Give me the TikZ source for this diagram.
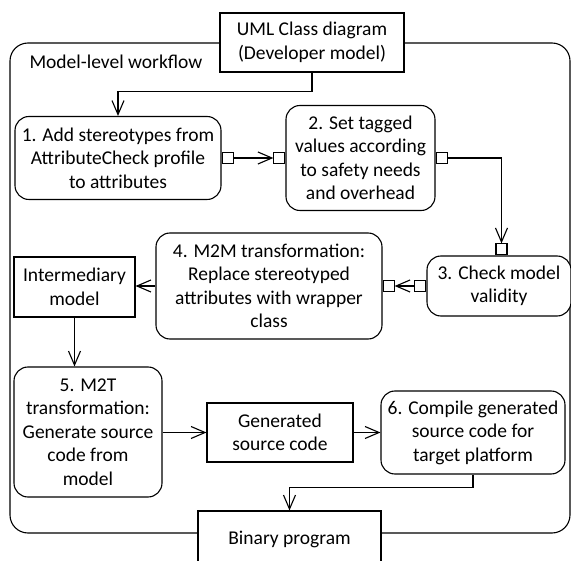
\documentclass[tikz,border=0pt]{standalone}
\usepackage{fontspec}
\setmainfont{Carlito}
\usetikzlibrary{arrows.meta}
\begin{document}
\begin{tikzpicture}[x=1pt,y=-1pt,
  line width=1.1pt,
  every node/.style={font=\fontsize{19.5}{23.5}\selectfont, align=center, inner sep=0pt},
  action/.style={draw, fill=white, rounded corners=14pt},
  objbox/.style={draw, fill=white},
  pinbox/.style={draw, fill=white, minimum width=11pt, minimum height=11pt},
  arr/.style={-{Straight Barb[length=14pt,width=12pt,line width=1.1pt]}}
]
\clip (0,0) rectangle (571,561);
% outer frame
\draw[rounded corners=18pt] (10,43) rectangle (570,533);
\node[anchor=west] (lbl) at (29,62) {Model-level workflow};

\node[objbox, minimum width=184pt, minimum height=59pt] (uml) at (312,42.5) {UML Class diagram\\(Developer model)};
\node[action, minimum width=206pt, minimum height=83pt] (n1) at (118,158) {1. Add stereotypes from\\AttributeCheck profile\\to attributes};
\node[action, minimum width=149pt, minimum height=105pt] (n2) at (360.5,158) {2. Set tagged\\values according\\to safety needs\\and overhead};
\node[action, minimum width=144pt, minimum height=60pt] (n3) at (499,286) {3. Check model\\validity};
\node[action, minimum width=226pt, minimum height=106pt] (n4) at (269,286) {4. M2M transformation:\\Replace stereotyped\\attributes with wrapper\\class};
\node[objbox, minimum width=121pt, minimum height=60pt] (inter) at (74.5,287) {Intermediary\\model};
\node[action, minimum width=148pt, minimum height=130pt] (n5) at (88,432) {5. M2T\\transformation:\\Generate source\\code from\\model};
\node[objbox, minimum width=146pt, minimum height=59pt] (gen) at (280,432.5) {Generated\\source code};
\node[action, minimum width=184pt, minimum height=83pt] (n6) at (473,432.5) {6. Compile generated\\source code for\\target platform};
\node[objbox, minimum width=183pt, minimum height=56pt] (bin) at (289.5,539) {Binary program};

% pins
\node[pinbox, anchor=west] (p1r) at (n1.east) {};
\node[pinbox, anchor=east] (p2l) at (n2.west) {};
\node[pinbox, anchor=west] (p2r) at (n2.east) {};
\node[pinbox, anchor=south] (p3t) at ([xshift=2.5pt]n3.north) {};
\node[pinbox, anchor=east] (p3l) at (n3.west) {};
\node[pinbox, anchor=west] (p4r) at (n4.east) {};

% connectors
\draw[arr] (uml.south) -- ++(0,19) -| (n1.north);
\draw[arr] (p1r.east) -- (p2l.west);
\draw[arr] (p2r.east) -| (p3t.north);
\draw[arr] (p3l.west) -- (p4r.east);
\draw[arr] (n4.west) -- (n4.west -| inter.east);
\draw[arr] (inter.south) -- (inter.south |- n5.north);
\draw[arr] (n5.east |- gen.west) -- (gen.west);
\draw[arr] (gen.east) -- (gen.east -| n6.west);
\draw[arr] (n6.south) -- ++(0,13) -| (bin.north);
\end{tikzpicture}
\end{document}
